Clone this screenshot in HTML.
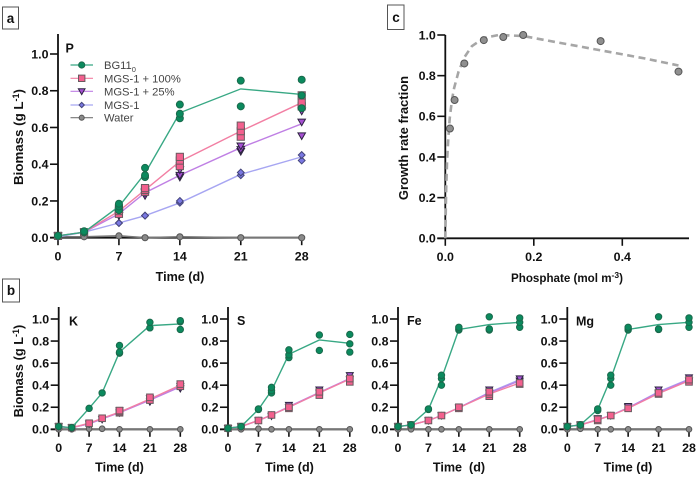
<!DOCTYPE html>
<html>
<head>
<meta charset="utf-8">
<title>Biomass and growth rate charts</title>
<style>
html,body{margin:0;padding:0;background:#fff;}
svg{display:block;font-family:"Liberation Sans",sans-serif;}
text{fill:#111;}
.tick{font-weight:bold;font-size:12.4px;}
.title{font-weight:bold;font-size:12.6px;}
.legend{font-size:11.2px;fill:#444;}
</style>
</head>
<body>
<svg id="fig" width="698" height="478" viewBox="0 0 698 478" xmlns="http://www.w3.org/2000/svg" style="filter:blur(0.35px)">
  <rect x="2.5" y="7" width="16" height="22" fill="#fff" stroke="#555"/>
  <text x="10.5" y="23" text-anchor="middle" font-weight="bold" font-size="13.5">a</text>
  <rect x="2.5" y="279" width="17" height="23" fill="#fff" stroke="#555"/>
  <text x="11" y="295" text-anchor="middle" font-weight="bold" font-size="13.5">b</text>
  <rect x="387.5" y="5" width="16.5" height="24.5" fill="#fff" stroke="#555"/>
  <text x="396" y="22" text-anchor="middle" font-weight="bold" font-size="13.5">c</text>

  <text class="title" x="180" y="281" text-anchor="middle">Time (d)</text>
  <text class="title" style="font-size:13.3px" transform="translate(23,137) rotate(-90)" text-anchor="middle">Biomass (g L<tspan dy="-4" font-size="9">-1</tspan><tspan dy="4">)</tspan></text>
  <text class="title" style="font-weight:bold;font-size:12.8px" transform="translate(23,371) rotate(-90)" text-anchor="middle">Biomass (g L<tspan dy="-4" font-size="9">-1</tspan><tspan dy="4">)</tspan></text>
  <text class="title" style="font-size:13px" transform="translate(408,138) rotate(-90)" text-anchor="middle">Growth rate fraction</text>
  <text class="title" style="font-size:11.6px" x="567" y="282" text-anchor="middle">Phosphate (mol m<tspan dy="-4" font-size="8.5">-3</tspan><tspan dy="4">)</tspan></text>
</svg>
<script>
// ---------- shared categories and tick labels ----------
const days = [0, 3, 7, 10, 14, 21, 28];
const dayTicks = [0, 7, 14, 21, 28];
const biomassTicks = [0, 0.2, 0.4, 0.6, 0.8, 1.0];
const seriesNames = ['Water', 'MGS-1', 'MGS-1 + 25%', 'MGS-1 + 100%', 'BG11'];

// ---------- panel a (P) ----------
const pBg11Mean = [0.01, 0.03, 0.17, 0.35, 0.68, 0.81, 0.78];
const pBg11Reps = [[0.01], [0.03, 0.035], [0.15, 0.17, 0.185], [0.33, 0.34, 0.38], [0.65, 0.675, 0.725], [0.715, 0.855], [0.705, 0.775, 0.86]];
const pFullMean = [0.01, 0.03, 0.145, 0.26, 0.415, 0.58, 0.735];
const pFullReps = [[0.01], [0.03], [0.13, 0.145, 0.16], [0.25, 0.26, 0.27], [0.39, 0.42, 0.44], [0.55, 0.58, 0.61], [0.715, 0.735, 0.775]];
const pQuarterMean = [0.01, 0.03, 0.13, 0.245, 0.34, 0.49, 0.62];
const pQuarterReps = [[0.01], [0.03], [0.12, 0.13, 0.14], [0.23, 0.245, 0.25], [0.33, 0.34, 0.37], [0.47, 0.48, 0.5], [0.555, 0.63, 0.69]];
const pMgsMean = [0.005, 0.03, 0.08, 0.12, 0.19, 0.345, 0.44];
const pMgsReps = [[0.005], [0.03], [0.08, 0.08], [0.12, 0.12], [0.19, 0.2], [0.34, 0.355], [0.42, 0.45]];
const pWaterMean = [0.005, 0.005, 0.01, 0, 0.005, 0, 0];
const pWaterReps = [[0.005], [0.005], [0.01], [0], [0.005], [0], [0]];

// ---------- panel b (K) ----------
const kBg11Mean = [0.025, 0.015, 0.19, 0.33, 0.7, 0.94, 0.955];
const kBg11Reps = [[0.025], [0.015], [0.19], [0.33], [0.69, 0.7, 0.76], [0.92, 0.97], [0.905, 0.975, 0.985]];
const kFullMean = [0.025, 0.015, 0.055, 0.1, 0.155, 0.275, 0.4];
const kFullReps = [[0.025], [0.015], [0.055], [0.1], [0.15, 0.16, 0.17], [0.265, 0.29], [0.39, 0.41]];
const kQuarterMean = [0.025, 0.015, 0.05, 0.095, 0.15, 0.265, 0.385];
const kQuarterReps = [[0.025], [0.015], [0.05], [0.09], [0.15, 0.17], [0.25, 0.28], [0.37, 0.39]];
const kMgsMean = [0.025, 0.015, 0.05, 0.095, 0.155, 0.27, 0.39];
const kMgsReps = [[0.025], [0.015], [0.05], [0.095], [0.155], [0.27], [0.39]];
const kWaterMean = [0, 0, 0, 0, 0, 0, 0];
const kWaterReps = [[0], [0], [0.005], [0.005], [0], [0], [0]];

// ---------- panel b (S) ----------
const sBg11Mean = [0.01, 0.025, 0.18, 0.35, 0.68, 0.81, 0.78];
const sBg11Reps = [[0.01], [0.025], [0.18, 0.185], [0.33, 0.35, 0.38], [0.65, 0.675, 0.72], [0.715, 0.855], [0.7, 0.775, 0.86]];
const sFullMean = [0.01, 0.025, 0.08, 0.13, 0.2, 0.33, 0.455];
const sFullReps = [[0.01], [0.025], [0.08], [0.13], [0.19, 0.2], [0.31, 0.34], [0.43, 0.46]];
const sQuarterMean = [0.01, 0.025, 0.08, 0.13, 0.205, 0.335, 0.46];
const sQuarterReps = [[0.01], [0.025], [0.08], [0.12], [0.2, 0.22], [0.33, 0.36], [0.45, 0.49]];
const sMgsMean = [0.01, 0.025, 0.08, 0.13, 0.2, 0.33, 0.46];
const sMgsReps = [[0.01], [0.025], [0.08], [0.13], [0.2], [0.33], [0.46]];
const sWaterMean = [0, 0, 0, 0, 0, 0, 0];
const sWaterReps = [[0], [0], [0.005], [0], [0], [0], [0]];

// ---------- panel b (Fe) ----------
const feBg11Mean = [0.025, 0.04, 0.18, 0.46, 0.905, 0.95, 0.97];
const feBg11Reps = [[0.025], [0.04], [0.18, 0.185], [0.4, 0.46, 0.49], [0.9, 0.91, 0.925], [0.9, 0.91, 1.02], [0.925, 0.97, 1.01]];
const feFullMean = [0.025, 0.04, 0.08, 0.125, 0.195, 0.32, 0.42];
const feFullReps = [[0.025], [0.04], [0.08], [0.125], [0.19, 0.2], [0.3, 0.32, 0.34], [0.41, 0.42]];
const feQuarterMean = [0.025, 0.04, 0.08, 0.125, 0.195, 0.33, 0.44];
const feQuarterReps = [[0.025], [0.04], [0.08], [0.125], [0.195], [0.33, 0.36], [0.44, 0.46]];
const feMgsMean = [0.025, 0.04, 0.08, 0.125, 0.195, 0.335, 0.45];
const feMgsReps = [[0.025], [0.04], [0.08], [0.125], [0.195], [0.335], [0.45]];
const feWaterMean = [0, 0, 0, 0, 0, 0, 0];
const feWaterReps = [[0], [0], [0], [0], [0], [0], [0]];

// ---------- panel b (Mg) ----------
const mgBg11Mean = [0.025, 0.04, 0.18, 0.46, 0.905, 0.95, 0.97];
const mgBg11Reps = [[0.025], [0.04], [0.17, 0.185], [0.4, 0.46, 0.49], [0.9, 0.91, 0.925], [0.905, 0.91, 1.02], [0.925, 0.97, 1.01]];
const mgFullMean = [0.025, 0.04, 0.085, 0.125, 0.19, 0.325, 0.44];
const mgFullReps = [[0.025], [0.04], [0.08, 0.09], [0.125], [0.19], [0.32, 0.33], [0.43, 0.45]];
const mgQuarterMean = [0.025, 0.04, 0.09, 0.125, 0.195, 0.335, 0.45];
const mgQuarterReps = [[0.025], [0.04], [0.09, 0.1], [0.125], [0.2, 0.21], [0.33, 0.36], [0.44, 0.47]];
const mgMgsMean = [0.025, 0.04, 0.085, 0.125, 0.195, 0.34, 0.455];
const mgMgsReps = [[0.025], [0.04], [0.085], [0.125], [0.195], [0.34], [0.455]];
const mgWaterMean = [0, 0, 0, 0, 0, 0, 0];
const mgWaterReps = [[0], [0.005], [0], [0], [0], [0], [0]];

// ---------- panel c ----------
const phosphateValues = [0.0105, 0.021, 0.043, 0.087, 0.131, 0.176, 0.351, 0.527];
const growthValues = [0.54, 0.68, 0.86, 0.975, 0.99, 1.0, 0.97, 0.82];
const fitPhosphate = [0, 0.001, 0.002, 0.004, 0.007, 0.01, 0.015, 0.02, 0.03, 0.043, 0.06, 0.087, 0.12, 0.176, 0.25, 0.35, 0.45, 0.527];
const fitGrowth = [0, 0.12, 0.24, 0.38, 0.5, 0.59, 0.68, 0.74, 0.82, 0.89, 0.945, 0.985, 1.0, 0.995, 0.965, 0.925, 0.885, 0.85];
const phosphateTicks = [0, 0.2, 0.4];
const growthTicks = [0, 0.2, 0.4, 0.6, 0.8, 1.0];

// ---------- rendering ----------
const NS = 'http://www.w3.org/2000/svg';
const fig = document.getElementById('fig');
const styles = {
  'BG11': {fill: '#0b8a5e', stroke: '#1a6a4c', line: '#38a884', shape: 'circle'},
  'MGS-1 + 100%': {fill: '#f3608e', stroke: '#6a5a60', line: '#f27fa3', shape: 'square'},
  'MGS-1 + 25%': {fill: '#a54fd2', stroke: '#2d2440', line: '#bf7fe4', shape: 'triangle'},
  'MGS-1': {fill: '#7a78e2', stroke: '#45457a', line: '#a7a6f2', shape: 'diamond'},
  'Water': {fill: '#8a8a8a', stroke: '#555', line: '#777', shape: 'circle'}
};

function make(tag, name, parent, attrs) {
  const el = document.createElementNS(NS, tag);
  
  
  for (const k in attrs) el.setAttribute(k, attrs[k]);
  (parent || fig).appendChild(el);
  return el;
}

function marker(parent, shape, name, cx, cy, st, size) {
  const base = {fill: st.fill, stroke: st.stroke, 'stroke-width': 1};
  const s = size;
  if (shape === 'circle') {
    make('circle', name, parent, Object.assign({cx: cx, cy: cy, r: s * 0.97}, base));
  } else if (shape === 'square') {
    make('rect', name, parent, Object.assign({x: cx - s, y: cy - s, width: 2 * s, height: 2 * s}, base));
  } else if (shape === 'triangle') {
    make('polygon', name, parent, Object.assign({points: (cx - s * 1.05) + ',' + (cy - s * 0.8) + ' ' + (cx + s * 1.05) + ',' + (cy - s * 0.8) + ' ' + cx + ',' + (cy + s * 1.05)}, base));
  } else {
    const d = s * 0.95;
    make('polygon', name, parent, Object.assign({points: cx + ',' + (cy - d) + ' ' + (cx + d) + ',' + cy + ' ' + cx + ',' + (cy + d) + ' ' + (cx - d) + ',' + cy}, base));
  }
}

function drawAxes(g, xf, yf, xTicks, yTicks, box, xFmt) {
  make('line', 'y-axis', g, {x1: box.left, x2: box.left, y1: box.top, y2: box.bottom + 1, stroke: '#111', 'stroke-width': 1.8});
  make('line', 'x-axis', g, {x1: box.left - 8, x2: box.right, y1: box.bottom, y2: box.bottom, stroke: '#111', 'stroke-width': 1.8});
  yTicks.forEach(function (t) {
    make('line', 'y-tick', g, {x1: box.left - 8, x2: box.left, y1: yf(t), y2: yf(t), stroke: '#111', 'stroke-width': 1.6});
    const lab = make('text', 'y-tick-label', g, {x: box.left - 9.5, y: yf(t) + 4.4, 'text-anchor': 'end', class: 'tick'});
    lab.textContent = t.toFixed(1);
  });
  xTicks.forEach(function (t) {
    make('line', 'x-tick', g, {x1: xf(t), x2: xf(t), y1: box.bottom, y2: box.bottom + 7.5, stroke: '#111', 'stroke-width': 1.6});
    const lab = make('text', 'x-tick-label', g, {x: xf(t), y: box.bottom + 22.6, 'text-anchor': 'middle', class: 'tick'});
    lab.textContent = xFmt(t);
  });
}

function drawGrowthPanel(cfg) {
  const g = make('g', cfg.name, fig, {});
  const x = function (d) { return cfg.x0 + (cfg.x28 - cfg.x0) * d / 28; };
  const y = function (v) { return cfg.y0 - (cfg.y0 - cfg.y1) * v; };
  drawAxes(g, x, y, dayTicks, biomassTicks, {left: cfg.x0, right: x(28) + 3, top: cfg.top, bottom: cfg.y0}, function (t) { return String(t); });
  const title = make('text', cfg.name + '-element-label', g, {x: cfg.labelX, y: cfg.labelY, 'font-weight': 'bold', 'font-size': 12.5});
  title.textContent = cfg.label;

  seriesNames.forEach(function (sn, i) {
    const st = styles[sn];
    const sg = make('g', cfg.name + '-series-' + sn.toLowerCase().replace(/[^a-z0-9]+/g, '-'), g, {});
    const means = cfg.means[i];
    const reps = cfg.reps[i];
    make('polyline', 'mean-line', sg, {
      points: means.map(function (v, k) { return x(days[k]) + ',' + y(v); }).join(' '),
      fill: 'none', stroke: st.line, 'stroke-width': sn === 'Water' ? cfg.waterWidth : 1.4
    });
    reps.forEach(function (vals, k) {
      vals.forEach(function (v) {
        marker(sg, st.shape, 'replicate-point', x(days[k]), y(v), st, sn === 'Water' ? cfg.size * 0.88 : cfg.size);
      });
    });
  });
}

function drawLegend() {
  const g = make('g', 'legend', fig, {});
  const rows = ['BG11', 'MGS-1 + 100%', 'MGS-1 + 25%', 'MGS-1', 'Water'];
  const rowY = [65, 78.3, 91.3, 105, 117.7];
  const rowSize = [3.2, 3.2, 3.2, 2.8, 2.6];
  rows.forEach(function (sn, i) {
    const st = styles[sn];
    const row = make('g', 'legend-entry', g, {});
    make('line', 'legend-line', row, {x1: 70.5, x2: 93, y1: rowY[i], y2: rowY[i], stroke: st.line, 'stroke-width': 1.2});
    marker(row, st.shape, 'legend-marker', 81.7, rowY[i], st, rowSize[i]);
    const t = make('text', 'legend-label', row, {x: 104, y: rowY[i] + 4, class: 'legend'});
    t.textContent = sn;
    if (sn === 'BG11') {
      const sub = make('tspan', 'legend-subscript', t, {dy: 3, style: 'font-size:7.5px'});
      sub.textContent = '0';
    }
  });
}

function drawPhosphatePanel() {
  const g = make('g', 'panel-c', fig, {});
  const x = function (v) { return 445.3 + v * 442.5; };
  const y = function (v) { return 238.3 - v * 203.3; };
  drawAxes(g, x, y, phosphateTicks, growthTicks, {left: 445.3, right: 689, top: 35, bottom: 238.3}, function (t) { return t.toFixed(1); });
  make('polyline', 'fit-curve', g, {
    points: fitPhosphate.map(function (v, i) { return x(v) + ',' + y(fitGrowth[i]); }).join(' '),
    fill: 'none', stroke: '#a6a6a6', 'stroke-width': 2.6, 'stroke-dasharray': '7 4.5'
  });
  phosphateValues.forEach(function (v, i) {
    make('circle', 'growth-point', g, {cx: x(v), cy: y(growthValues[i]), r: 3.5, fill: '#8f8f8f', stroke: '#555', 'stroke-width': 1});
  });
}

drawGrowthPanel({
  name: 'panel-a-p', label: 'P', labelX: 65.5, labelY: 52.5, size: 3.6,
  x0: 58, x28: 301.7, y0: 237.7, y1: 54, top: 34, waterWidth: 1.6,
  means: [pWaterMean, pMgsMean, pQuarterMean, pFullMean, pBg11Mean],
  reps: [pWaterReps, pMgsReps, pQuarterReps, pFullReps, pBg11Reps]
});
drawGrowthPanel({
  name: 'panel-b-k', label: 'K', labelX: 69, labelY: 325.5, size: 3.3,
  x0: 58.7, x28: 180.3, y0: 429.3, y1: 319, top: 307, waterWidth: 2,
  means: [kWaterMean, kMgsMean, kQuarterMean, kFullMean, kBg11Mean],
  reps: [kWaterReps, kMgsReps, kQuarterReps, kFullReps, kBg11Reps]
});
drawGrowthPanel({
  name: 'panel-b-s', label: 'S', labelX: 237, labelY: 325, size: 3.3,
  x0: 228, x28: 349.8, y0: 429.3, y1: 319, top: 307, waterWidth: 2,
  means: [sWaterMean, sMgsMean, sQuarterMean, sFullMean, sBg11Mean],
  reps: [sWaterReps, sMgsReps, sQuarterReps, sFullReps, sBg11Reps]
});
drawGrowthPanel({
  name: 'panel-b-fe', label: 'Fe', labelX: 407, labelY: 325, size: 3.3,
  x0: 398, x28: 519.7, y0: 429.3, y1: 319, top: 307, waterWidth: 2,
  means: [feWaterMean, feMgsMean, feQuarterMean, feFullMean, feBg11Mean],
  reps: [feWaterReps, feMgsReps, feQuarterReps, feFullReps, feBg11Reps]
});
drawGrowthPanel({
  name: 'panel-b-mg', label: 'Mg', labelX: 576, labelY: 325.5, size: 3.3,
  x0: 567.3, x28: 689, y0: 429.3, y1: 319, top: 307, waterWidth: 2,
  means: [mgWaterMean, mgMgsMean, mgQuarterMean, mgFullMean, mgBg11Mean],
  reps: [mgWaterReps, mgMgsReps, mgQuarterReps, mgFullReps, mgBg11Reps]
});
drawLegend();
drawPhosphatePanel();

// x-axis titles for the lower row
const lowerTitleX = [119.5, 289.5, 459, 628];
const lowerTitleText = ['Time (d)', 'Time (d)', 'Time  (d)', 'Time (d)'];
lowerTitleX.forEach(function (px, i) {
  const t = make('text', 'time-axis-title-b', fig, {x: px, y: 471.5, 'text-anchor': 'middle', class: 'title', style: 'white-space:pre'});
  t.textContent = lowerTitleText[i];
});
</script>
</body>
</html>
